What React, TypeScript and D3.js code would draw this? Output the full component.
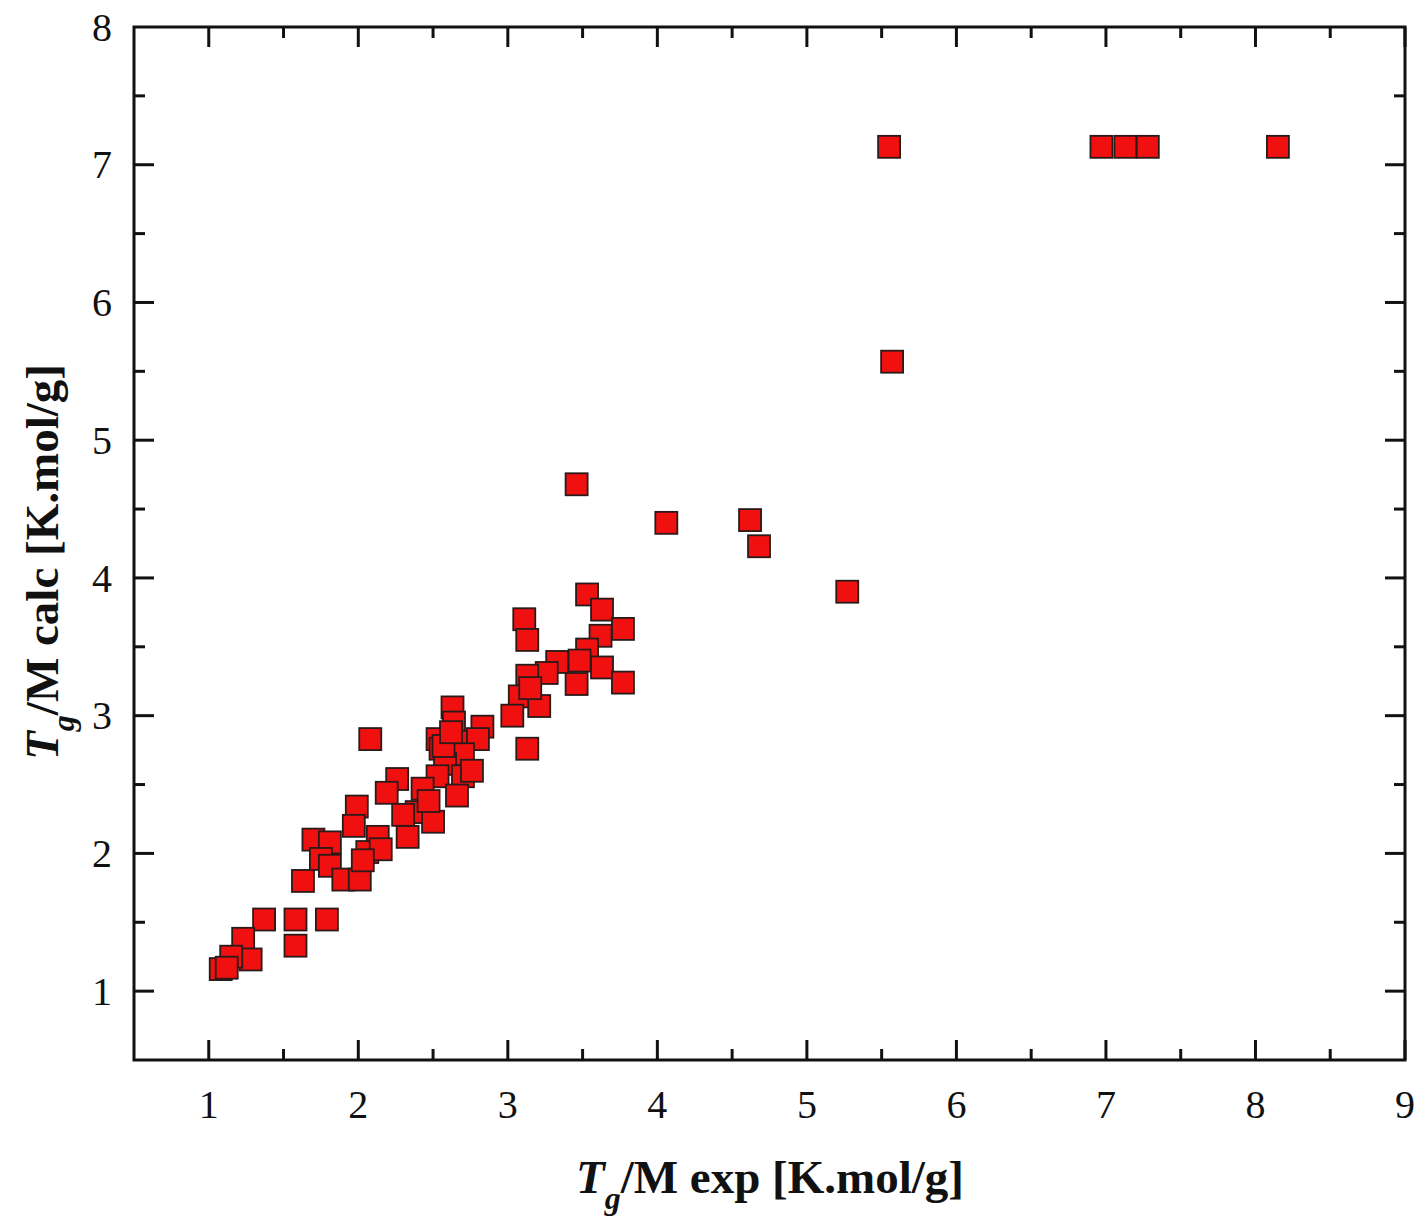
import React, { useEffect, useRef } from 'react';
import * as d3 from 'd3';

// Tg/M experimental vs calculated
const expVals = [
  5.55, 6.97, 7.13, 7.28, 8.15, 5.57,
  3.46, 4.06, 4.62, 4.68, 5.27,
  3.53, 3.63, 3.77, 3.11, 3.13, 3.62, 3.53, 3.33, 3.26, 3.13, 3.63, 3.46, 3.77,
  3.08, 3.21, 3.03, 3.13, 3.15, 3.48,
  2.63, 2.64, 2.83, 2.53, 2.66, 2.80, 2.08, 2.55, 2.70, 2.58,
  2.26, 2.19, 2.53, 2.43, 2.70, 2.66, 2.76, 1.99, 2.39, 2.50, 1.97, 2.13, 2.33,
  1.70, 1.81, 1.75, 2.06, 2.15, 1.81, 1.90, 2.01, 1.63, 2.03, 2.47, 2.30,
  1.37, 1.58, 1.79, 1.58, 1.23, 1.28, 1.15, 1.08, 1.12, 2.57, 2.62,
];
const calcVals = [
  7.13, 7.13, 7.13, 7.13, 7.13, 5.57,
  4.68, 4.40, 4.42, 4.23, 3.90,
  3.88, 3.77, 3.63, 3.70, 3.55, 3.58, 3.48, 3.39, 3.31, 3.29, 3.35, 3.23, 3.24,
  3.14, 3.07, 3.00, 2.76, 3.20, 3.40,
  3.06, 2.95, 2.92, 2.83, 2.81, 2.83, 2.83, 2.76, 2.72, 2.65,
  2.54, 2.44, 2.56, 2.47, 2.56, 2.42, 2.60, 2.34, 2.30, 2.23, 2.20, 2.12, 2.12,
  2.10, 2.08, 1.96, 2.01, 2.03, 1.91, 1.81, 1.81, 1.80, 1.95, 2.38, 2.28,
  1.52, 1.52, 1.52, 1.33, 1.38, 1.23, 1.25, 1.16, 1.17, 2.78, 2.88,
];
const xTicks = [1, 2, 3, 4, 5, 6, 7, 8, 9];
const yTicks = [1, 2, 3, 4, 5, 6, 7, 8];

export default function App() {
  const ref = useRef<SVGSVGElement>(null);

  useEffect(() => {
    const W = 1416, H = 1225;
    const m = { left: 134, right: 1405, top: 27, bottom: 1060 };
    const svg = d3.select(ref.current);
    svg.selectAll('*').remove();

    const x = d3.scaleLinear().domain([0.5, 9]).range([m.left, m.right]);
    const y = d3.scaleLinear().domain([0.5, 8]).range([m.bottom, m.top]);

    const font = '"Liberation Serif", "Times New Roman", serif';
    const majX = xTicks;
    const minX = d3.range(0.5, 9, 1).filter(v => v > 0.5);
    const majY = yTicks.filter(v => v < 8);
    const minY = d3.range(1.5, 8, 1);
    const ink = '#111';

    // points
    const data = expVals.map((v, i) => ({ e: v, c: calcVals[i] }));
    const s = 22;
    svg.append('g')
      .selectAll('rect')
      .data(data)
      .enter().append('rect')
      .attr('x', d => x(d.e) - s / 2)
      .attr('y', d => y(d.c) - s / 2)
      .attr('width', s)
      .attr('height', s)
      .attr('fill', '#f01010')
      .attr('stroke', '#2a1a1a')
      .attr('stroke-width', 1.8);

    const g = svg.append('g').attr('stroke', ink).attr('stroke-width', 3);
    // ticks on all sides, pointing in
    majX.forEach(v => {
      g.append('line').attr('x1', x(v)).attr('x2', x(v)).attr('y1', m.bottom).attr('y2', m.bottom - 20);
      g.append('line').attr('x1', x(v)).attr('x2', x(v)).attr('y1', m.top).attr('y2', m.top + 20);
    });
    minX.forEach(v => {
      g.append('line').attr('x1', x(v)).attr('x2', x(v)).attr('y1', m.bottom).attr('y2', m.bottom - 11);
      g.append('line').attr('x1', x(v)).attr('x2', x(v)).attr('y1', m.top).attr('y2', m.top + 11);
    });
    majY.forEach(v => {
      g.append('line').attr('y1', y(v)).attr('y2', y(v)).attr('x1', m.left).attr('x2', m.left + 20);
      g.append('line').attr('y1', y(v)).attr('y2', y(v)).attr('x1', m.right).attr('x2', m.right - 20);
    });
    minY.forEach(v => {
      g.append('line').attr('y1', y(v)).attr('y2', y(v)).attr('x1', m.left).attr('x2', m.left + 11);
      g.append('line').attr('y1', y(v)).attr('y2', y(v)).attr('x1', m.right).attr('x2', m.right - 11);
    });
    svg.append('rect')
      .attr('x', m.left).attr('y', m.top)
      .attr('width', m.right - m.left).attr('height', m.bottom - m.top)
      .attr('fill', 'none').attr('stroke', ink).attr('stroke-width', 3);

    // tick labels
    svg.append('g').selectAll('text').data(xTicks).enter().append('text')
      .attr('x', d => x(d)).attr('y', m.bottom + 58)
      .attr('text-anchor', 'middle')
      .attr('font-family', font).attr('font-size', 40).attr('fill', ink)
      .text(d => d);
    svg.append('g').selectAll('text').data(yTicks).enter().append('text')
      .attr('x', m.left - 22).attr('y', d => y(d)).attr('dy', '0.34em')
      .attr('text-anchor', 'end')
      .attr('font-family', font).attr('font-size', 40).attr('fill', ink)
      .text(d => d);

    // axis titles
    const xt = svg.append('text')
      .attr('x', 770).attr('y', 1193)
      .attr('text-anchor', 'middle')
      .attr('font-family', font).attr('font-size', 47).attr('font-weight', 'bold').attr('fill', ink);
    xt.append('tspan').attr('font-style', 'italic').text('T');
    xt.append('tspan').attr('font-style', 'italic').attr('font-size', 32).attr('dy', 16).text('g');
    xt.append('tspan').attr('dy', -16).text('/M exp [K.mol/g]');

    const yt = svg.append('text')
      .attr('transform', `translate(58,562) rotate(-90)`)
      .attr('text-anchor', 'middle')
      .attr('font-family', font).attr('font-size', 47).attr('font-weight', 'bold').attr('fill', ink);
    yt.append('tspan').attr('font-style', 'italic').text('T');
    yt.append('tspan').attr('font-style', 'italic').attr('font-size', 32).attr('dy', 16).text('g');
    yt.append('tspan').attr('dy', -16).text('/M calc [K.mol/g]');

    svg.attr('width', W).attr('height', H);
  }, []);

  return (
    <svg
      ref={ref}
      width={1416}
      height={1225}
      style={{ position: 'absolute', left: 0, top: 0, background: '#fff' }}
    />
  );
}
